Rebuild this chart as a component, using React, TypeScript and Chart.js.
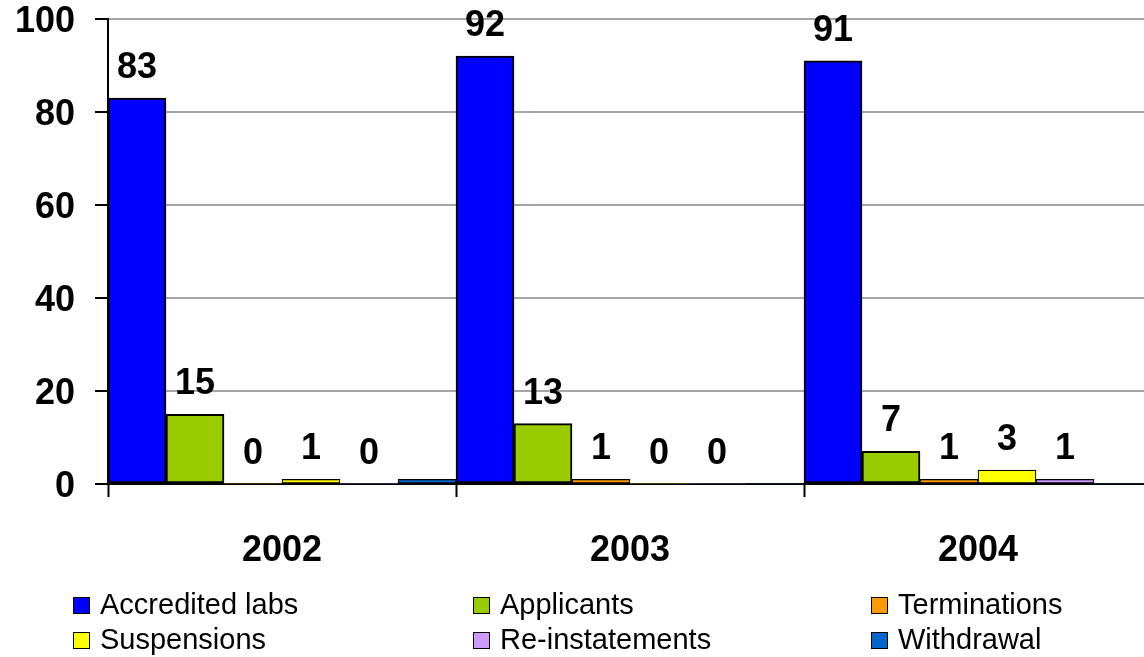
import React, { useEffect, useRef } from "react";
import { Chart, registerables } from "chart.js";

Chart.register(...registerables);

const categories = ["2002", "2003", "2004"];
const seriesNames = ["Accredited labs", "Applicants", "Terminations", "Suspensions", "Re-instatements", "Withdrawal"];
const accredited = [83, 92, 91];
const applicants = [15, 13, 7];
const terminations = [0, 1, 1];
const suspensions = [1, 0, 3];
const reinstatements = [0, 0, 1];
const withdrawal = [1, 0, 0];
const seriesColors = ["#0000FF", "#99CC00", "#FF9900", "#FFFF00", "#CC99FF", "#0066CC"];
const labelledSeries = [true, true, true, true, true, false];
const yTicks = [0, 20, 40, 60, 80, 100];

const FONT = '"Liberation Sans", Arial, Helvetica, sans-serif';

const legendCols = [73, 473, 871];
const legendRows = [597, 632];

const valueLabels = {
  id: "valueLabels",
  afterDatasetsDraw(chart: any) {
    const ctx = chart.ctx;
    ctx.save();
    ctx.font = `bold 36px ${FONT}`;
    ctx.fillStyle = "#000";
    ctx.textAlign = "center";
    ctx.textBaseline = "alphabetic";
    chart.data.datasets.forEach((ds: any, di: number) => {
      if (!labelledSeries[di]) return;
      const meta = chart.getDatasetMeta(di);
      meta.data.forEach((el: any, i: number) => {
        ctx.fillText(String(ds.data[i]), el.x, el.y - 20);
      });
    });
    ctx.restore();
  },
};

export default function App() {
  const ref = useRef<HTMLCanvasElement>(null);
  useEffect(() => {
    if (!ref.current) return;
    const allData = [accredited, applicants, terminations, suspensions, reinstatements, withdrawal];
    const chart = new Chart(ref.current, {
      type: "bar",
      data: {
        labels: categories,
        datasets: seriesNames.map((name, i) => ({
          label: name,
          data: allData[i],
          backgroundColor: seriesColors[i],
          borderColor: "#000",
          borderWidth: (c: any) => (c.raw === 0 ? 0 : c.raw < 5 ? 1.2 : 2),
          borderSkipped: false,
          categoryPercentage: 1,
          barPercentage: 1,
        })),
      },
      options: {
        responsive: false,
        animation: false,
        layout: { padding: { top: 19, left: 0, right: 0, bottom: 0 } },
        plugins: { legend: { display: false }, tooltip: { enabled: false } },
        scales: {
          x: {
            offset: true,
            grid: { display: true, drawOnChartArea: false, offset: true, tickLength: 13, tickColor: "#000", tickWidth: 2 },
            border: { color: "#000", width: 2 },
            ticks: { font: { family: FONT, size: 36, weight: "bold", lineHeight: 1 }, color: "#000", padding: 36 },
            afterFit(scale: any) {
              scale.height = 173;
              scale.paddingLeft = 0;
              scale.paddingRight = 0;
            },
          },
          y: {
            min: 0,
            max: 100,
            afterBuildTicks(scale: any) {
              scale.ticks = yTicks.map((v) => ({ value: v }));
            },
            grid: { color: "#a6a6a6", lineWidth: 2, tickLength: 13, tickColor: "#000", tickWidth: 2 },
            border: { color: "#000", width: 2 },
            ticks: { font: { family: FONT, size: 36, weight: "bold", lineHeight: 1 }, color: "#000", padding: 20, labelOffset: 3 },
            afterFit(scale: any) {
              scale.width = 108;
              scale.paddingTop = 0;
              scale.paddingBottom = 0;
            },
          },
        },
      },
      plugins: [valueLabels],
    });
    return () => chart.destroy();
  }, []);

  return (
    <div style={{ position: "absolute", left: 0, top: 0, width: 1144, height: 657, overflow: "hidden", background: "#fff" }}>
      <canvas ref={ref} width={1152} height={657} style={{ display: "block", position: "absolute", left: 0, top: 0 }} />
      {seriesNames.map((name, i) => {
        const col = legendCols[i % 3];
        const row = legendRows[Math.floor(i / 3)];
        return (
          <React.Fragment key={name}>
            <div
              style={{
                position: "absolute",
                left: col,
                top: row,
                width: 17,
                height: 17,
                boxSizing: "border-box",
                border: "1.5px solid #000",
                background: seriesColors[i],
              }}
            />
            <div
              style={{
                position: "absolute",
                left: col + 27,
                top: row - 7,
                fontFamily: FONT,
                fontSize: 29,
                lineHeight: "29px",
                color: "#000",
                whiteSpace: "nowrap",
              }}
            >
              {name}
            </div>
          </React.Fragment>
        );
      })}
    </div>
  );
}
